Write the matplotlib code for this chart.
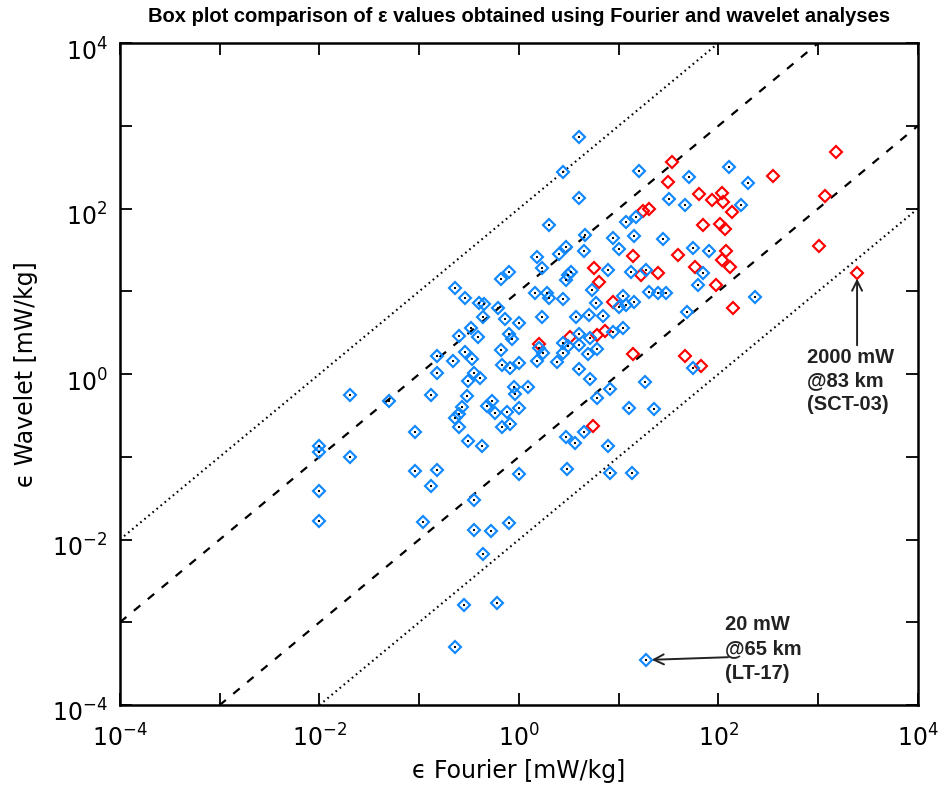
import matplotlib
matplotlib.use("Agg")
import matplotlib.pyplot as plt
import matplotlib.ticker as mticker
from matplotlib.transforms import ScaledTranslation
import numpy as np

plt.rcParams["lines.scale_dashes"] = False

# Dissipation rates (mW/kg): Fourier estimate vs wavelet estimate
blue_fourier = [4.0, 2.76, 4.0, 2.0, 4.59, 8.75, 10.1, 4.48, 1.51, 2.52, 2.96, 1.70,
                0.66, 0.79, 3.10, 3.32, 2.96, 1.45, 1.91, 2.0, 2.76, 5.4, 5.9, 6.95,
                5.0, 3.73, 1.70, 1.0, 0.72, 0.62, 0.45, 0.40, 0.29, 0.23, 0.44, 0.33,
                0.25, 0.39, 0.79, 0.85, 8.75, 11.0, 4.0, 16.0, 50.6, 127, 198, 168,
                46, 31.9, 11.8, 14.9, 14.2, 27.8, 55.5, 80.3, 13.3, 18.8, 7.8, 20.1,
                24.7, 29.8, 62.3, 70, 48.3, 232, 11.0, 10.1, 11.8, 14.2, 0.66, 0.68,
                0.81, 1.0, 1.59, 1.74, 1.51, 2.4, 2.76, 2.76, 3.10, 4.0, 5.15, 4.92,
                6.05, 4.0, 5.15, 18.3, 8.2, 6.05, 12.7, 22.6, 0.89, 0.91, 1.23, 0.54,
                0.48, 0.57, 0.76, 1.0, 0.81, 0.68, 2.96, 3.64, 4.48, 7.8, 0.43, 3.03,
                1.0, 8.2, 13.6, 55.5, 0.79, 0.52, 0.151, 0.29, 0.22, 0.34, 0.151, 0.35,
                0.31, 0.41, 0.02, 0.050, 0.131, 0.30, 0.27, 0.25, 0.23, 0.25, 0.091,
                0.31, 0.01, 0.01, 0.02, 0.091, 0.151, 0.131, 0.01, 0.35, 0.01, 0.109,
                0.354, 0.44, 0.28, 0.60, 0.23, 18.8]
blue_wavelet = [730, 276, 134, 63, 47.9, 44, 32.4, 30.6, 25.9, 28.2, 34.3, 19.1,
                14.1, 17.1, 15.7, 17.1, 13.7, 9.5, 9.5, 8.3, 8.06, 10.4, 7.2, 5.0,
                5.2, 4.9, 4.9, 4.1, 4.6, 6.3, 7.0, 7.2, 8.3, 10.9, 4.9, 3.6,
                2.88, 2.80, 3.04, 2.65, 3.22, 3.6, 3.04, 284, 240, 318, 203, 110,
                110, 130, 68.7, 78.9, 46.5, 42.8, 33.3, 30.6, 17.1, 18.1, 18.1, 9.8,
                9.5, 9.5, 11.9, 16.6, 5.6, 8.5, 8.8, 6.45, 6.8, 7.4, 1.95, 1.28,
                1.18, 1.36, 2.06, 1.79, 1.44, 1.40, 1.79, 2.37, 2.18, 2.24, 2.72, 1.75,
                2.0, 1.15, 0.87, 0.80, 0.66, 0.51, 0.39, 0.38, 0.70, 0.57, 0.70, 0.47,
                0.41, 0.34, 0.35, 0.39, 0.25, 0.23, 0.173, 0.147, 0.199, 0.135, 0.135, 0.071,
                0.062, 0.064, 0.064, 1.18, 0.0158, 0.0127, 1.65, 1.84, 1.44, 1.52, 1.03, 1.03,
                0.82, 0.89, 0.56, 0.47, 0.56, 0.54, 0.40, 0.33, 0.29, 0.23, 0.199,
                0.155, 0.135, 0.114, 0.099, 0.067, 0.069, 0.044, 0.0385, 0.030, 0.0167, 0.0163,
                0.0130, 0.0067, 0.00161, 0.00171, 0.00050, 0.00035]

red_fourier = [34.2, 31.2, 63.7, 17.5, 20.1, 70, 13.9, 39.3, 58.1, 5.65, 6.34, 16.7,
               24.7, 8.75, 7.28, 6.05, 3.25, 1.59, 13.9, 46, 66.8, 5.52, 2450, 1510,
               352, 108, 86, 111, 137, 1170, 104, 116, 1020, 119, 108, 130, 94.4, 140]
red_wavelet = [365, 209, 150, 93, 98.6, 63, 26.7, 27.4, 19.6, 19.1, 12.9, 15.7,
               16.6, 7.4, 3.31, 2.96, 2.80, 2.3, 1.75, 1.65, 1.25, 0.235, 16.6, 482,
               247, 154, 127, 120, 90.8, 142, 65, 56.5, 35.2, 30.6, 23.9, 19.6, 11.9, 6.28]

# Reference ratios epsilon_wavelet / epsilon_Fourier
dashed_ratios = [10, 0.1]
dotted_ratios = [100, 0.01]
axis_range = [1e-4, 1e4]
decades = list(range(-4, 5))

title = "Box plot comparison of \u03b5 values obtained using Fourier and wavelet analyses"
xlabel = "\u03f5 Fourier [mW/kg]"
ylabel = "\u03f5 Wavelet [mW/kg]"

BLUE = "#1088ff"
RED = "#ff0000"

fig = plt.figure(figsize=(9.4, 7.85), dpi=100)
ax = fig.add_axes([120 / 940, 1 - 705 / 785, 798 / 940, 662 / 785])
ax.set_xscale("log")
ax.set_yscale("log")
ax.set_xlim(axis_range)
ax.set_ylim(axis_range)

ref_x = np.array(axis_range)
for r in dashed_ratios:
    ax.plot(ref_x, r * ref_x, color="black", lw=1.6, ls=(0, (6.0, 7.0)), zorder=1)
for r in dotted_ratios:
    ax.plot(ref_x, r * ref_x, color="black", lw=1.5, ls=(0, (1.2, 2.6)), zorder=1)

ax.plot(red_fourier, red_wavelet, ls="none", marker="D", ms=5.9, mew=1.55,
        mfc="none", mec=RED, zorder=3)
ax.plot(blue_fourier, blue_wavelet, ls="none", marker="D", ms=5.9, mew=1.55,
        mfc="none", mec=BLUE, zorder=4)
ax.plot(blue_fourier, blue_wavelet, ls="none", marker="s", ms=1.6, mew=0,
        mfc="black", zorder=5)

# Annotated profiles
ann_font = dict(family="Liberation Sans", weight="bold", size=14.5, color="#222222")
ax.annotate("", xy=(red_fourier[22], red_wavelet[22]), xytext=(0, -52),
            textcoords="offset points",
            arrowprops=dict(arrowstyle="->", lw=1.4, color="#222222",
                            mutation_scale=18, shrinkA=0, shrinkB=4))
ax.annotate("2000 mW\n@83 km\n(SCT-03)", xy=(red_fourier[22], red_wavelet[22]),
            xytext=(-36, -54), textcoords="offset points", ha="left", va="top",
            linespacing=1.3, **ann_font)
ax.annotate("", xy=(blue_fourier[-1], blue_wavelet[-1]), xytext=(59, 2),
            textcoords="offset points",
            arrowprops=dict(arrowstyle="->", lw=1.4, color="#222222",
                            mutation_scale=18, shrinkA=0, shrinkB=4))
ax.annotate("20 mW\n@65 km\n(LT-17)", xy=(blue_fourier[-1], blue_wavelet[-1]),
            xytext=(57, 32.5), textcoords="offset points", ha="left", va="top",
            linespacing=1.38, **ann_font)

# Axes styling
major = mticker.FixedLocator([10.0 ** d for d in decades])


def decade_label(v, pos):
    e = int(round(np.log10(v)))
    return r"$10^{%d}$" % e if e % 2 == 0 else ""


for axis in (ax.xaxis, ax.yaxis):
    axis.set_major_locator(major)
    axis.set_minor_locator(mticker.NullLocator())
    axis.set_major_formatter(mticker.FuncFormatter(decade_label))

ax.tick_params(which="major", direction="in", top=True, right=True,
               length=8.6, width=1.3, labelsize=17)
ax.tick_params(axis="x", pad=14)
ax.tick_params(axis="y", pad=9)
for s in ax.spines.values():
    s.set_linewidth(1.8)

shift = ScaledTranslation(0, -6 / 100, fig.dpi_scale_trans)
for lab in ax.get_yticklabels():
    lab.set_transform(lab.get_transform() + shift)

ax.set_xlabel(xlabel, fontsize=17, labelpad=5)
ax.set_ylabel(ylabel, fontsize=17, labelpad=10)

fig.text(519 / 940, 1 - 17 / 785, title, ha="center", va="center",
         family="Liberation Sans", weight="bold", fontsize=14.5)

fig.savefig("out.png", dpi=100)
